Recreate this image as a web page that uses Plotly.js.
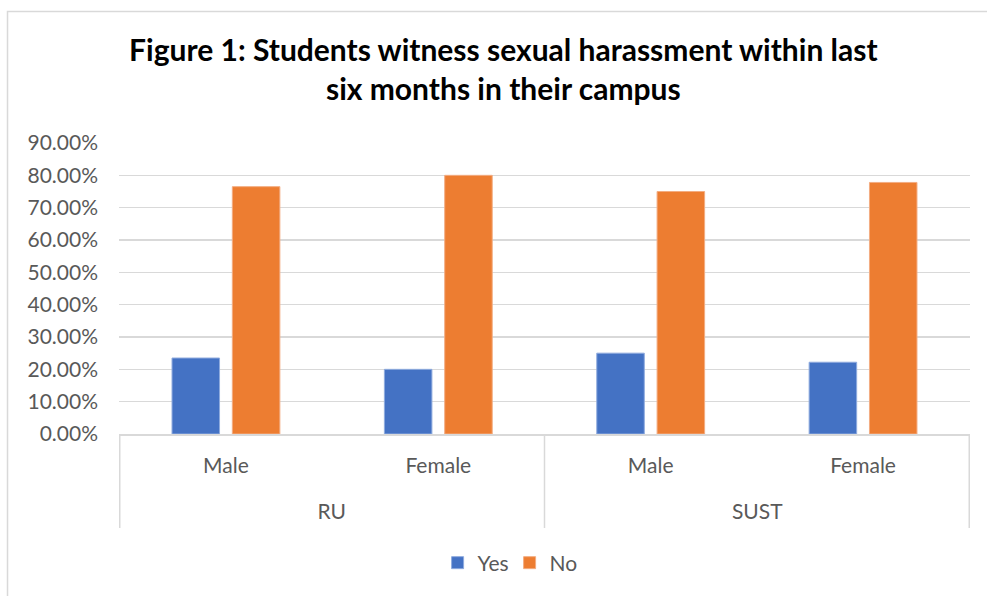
<!DOCTYPE html>
<html>
<head>
<meta charset="utf-8">
<script src="https://cdn.plot.ly/plotly-3.0.1.min.js"></script>
<style>html,body{margin:0;padding:0;background:#fff;}#chart{width:987px;height:596px;}</style>
</head>
<body>
<div id="chart"></div>
<script>
const universities = ["RU", "RU", "SUST", "SUST"];
const genders = ["Male", "Female", "Male", "Female"];
const yesValues = [0.235, 0.20, 0.25, 0.222];
const noValues = [0.765, 0.80, 0.75, 0.778];
const seriesNames = ["Yes", "No"];
const titleText = "Figure 1: Students witness sexual harassment within last<br>six months in their campus";

const font = "Lato, 'Open Sans', sans-serif";
const gray = "#595959";
const lineGray = "#d9d9d9";

// category keys (unique) built from the two label arrays
const keys = universities.map((u, i) => u + " " + genders[i]);
const groupNames = [...new Set(universities)];

const traces = [
  {type: "bar", name: seriesNames[0], x: keys, y: yesValues,
   marker: {color: "#4472c4", line: {color: "#8fabde", width: 1}}},
  {type: "bar", name: seriesNames[1], x: keys, y: noValues,
   marker: {color: "#ed7d31", line: {color: "#f3ad82", width: 1}}},
  // invisible helper so the group axis is drawn
  {type: "scatter", mode: "markers", x: groupNames, y: [0, 0], xaxis: "x2", yaxis: "y",
   marker: {opacity: 0}, showlegend: false, hoverinfo: "skip"}
];

// divider positions at group boundaries (category index space)
const dividerX = [-0.5];
universities.forEach((u, i) => {
  if (i < universities.length - 1 && universities[i + 1] !== u) dividerX.push(i + 0.5);
});
dividerX.push(universities.length - 0.5);

const H = 556, B = 576; // paper height and bottom in px (margin t=20, b=20)
const py = px => (B - px) / H;

const shapes = dividerX.map(x => ({
  type: "line", xref: "x", yref: "paper", x0: x, x1: x, y0: py(434), y1: py(528),
  line: {color: lineGray, width: 1.5}
}));
shapes.push({type: "rect", xref: "paper", yref: "paper", x0: -0.131, x1: 1.05, y0: -0.1, y1: py(11.5),
  line: {color: lineGray, width: 1.5}, fillcolor: "rgba(0,0,0,0)", layer: "below"});

const layout = {
  width: 987, height: 596,
  margin: {l: 119, r: 17, t: 20, b: 20},
  paper_bgcolor: "#fff", plot_bgcolor: "#fff",
  font: {family: font, color: gray, size: 21},
  title: {text: titleText, x: 0.51, xanchor: "center", y: 0.898, yanchor: "top",
          font: {family: font, size: 30, color: "#000", weight: "bold"}},
  barmode: "group", bargap: 0.432, bargroupgap: 0.212,
  showlegend: true,
  legend: {orientation: "h", x: 0.459, xanchor: "center", y: py(563), yanchor: "middle",
           font: {family: font, size: 21, color: gray}, traceorder: "normal",
           itemwidth: 30, entrywidth: 27},
  xaxis: {type: "category", domain: [0, 1], anchor: "y",
          tickvals: keys, ticktext: genders,
          showline: true, linecolor: lineGray, linewidth: 1.5,
          tickfont: {family: font, size: 21, color: gray}, ticks: "", showgrid: false,
          ticklabelstandoff: 12, fixedrange: true},
  xaxis2: {type: "category", overlaying: "x", anchor: "free", position: py(497),
           range: [-0.5, 1.5], showline: false, showgrid: false, ticks: "",
           tickfont: {family: font, size: 21, color: gray}, fixedrange: true},
  yaxis: {domain: [py(434), py(143)], range: [0, 0.9], dtick: 0.1, tickformat: ".2%", showgrid: true,
          gridcolor: lineGray, gridwidth: 1.2, zeroline: false, showline: false,
          ticks: "", ticklabelstandoff: 20,
          tickfont: {family: font, size: 21, color: gray}, fixedrange: true},
  shapes: shapes
};

Plotly.newPlot("chart", traces, layout, {displayModeBar: false, staticPlot: true});
</script>
</body>
</html>
